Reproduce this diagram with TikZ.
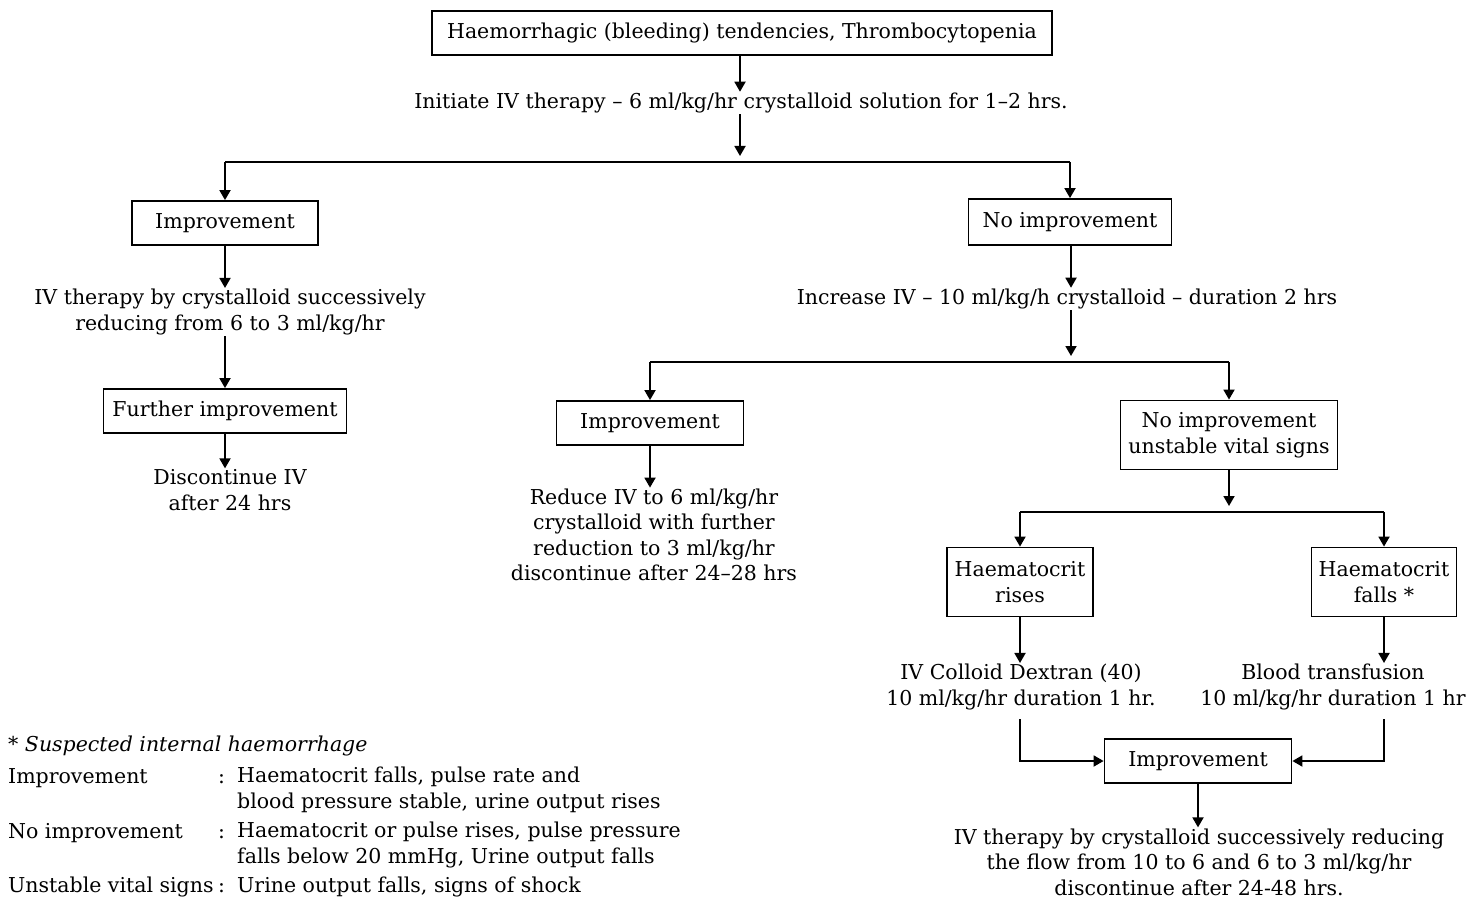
\documentclass[tikz,border=0pt]{standalone}
\usepackage{fontspec}
\setmainfont{DejaVu Serif}
\usetikzlibrary{arrows.meta}
\tikzset{
  stepbox/.style={draw,line width=1.8pt,inner sep=4pt,align=center},
  note/.style={align=center,inner sep=1pt},
  key/.style={anchor=base west,inner sep=0pt,align=left},
  arr/.style={line width=1.8pt,-{Triangle[length=10pt,width=11pt]}},
  link/.style={line width=1.8pt},
}
\begin{document}
\begin{tikzpicture}[x=1pt,y=-1pt,font=\fontsize{20.5}{25.5}\selectfont]
  \useasboundingbox (0,0) rectangle (1480,901);
  % top of the chart
  \node[stepbox,minimum width=620pt,minimum height=44pt] (cause) at (742,33) {Haemorrhagic (bleeding) tendencies, Thrombocytopenia};
  \node[note] (init) at (741,103) {Initiate IV therapy -- 6 ml/kg/hr crystalloid solution for 1--2 hrs.};
  \coordinate (bus1) at (740,162);
  % left branch
  \node[stepbox,minimum width=186pt,minimum height=44pt] (impA) at (225,223) {Improvement};
  \node[note] (reduceA) at (230,312) {IV therapy by crystalloid successively\\reducing from 6 to 3 ml/kg/hr};
  \node[stepbox,minimum width=243pt,minimum height=44pt] (further) at (225,411) {Further improvement};
  \node[note] (stopA) at (230,490) {Discontinue IV\\after 24 hrs};
  % right branch
  \node[stepbox,minimum width=203pt,minimum height=46pt] (noimpA) at (1070,222) {No improvement};
  \node[note] (increase) at (1067,299) {Increase IV -- 10 ml/kg/h crystalloid -- duration 2 hrs};
  \coordinate (bus2) at (1071,362);
  \node[stepbox,minimum width=187pt,minimum height=44pt] (impB) at (650,423) {Improvement};
  \node[note] (reduceB) at (654,535) {Reduce IV to 6 ml/kg/hr\\crystalloid with further\\reduction to 3 ml/kg/hr\\discontinue after 24--28 hrs};
  \node[stepbox,minimum width=217pt,minimum height=69pt] (unstable) at (1229,435) {No improvement\\unstable vital signs};
  \coordinate (bus3) at (1229,512);
  \node[stepbox,minimum width=146pt,minimum height=69pt] (rises) at (1020,582) {Haematocrit\\rises};
  \node[stepbox,minimum width=145pt,minimum height=69pt] (falls) at (1384,582) {Haematocrit\\falls *};
  \node[note] (dextran) at (1021,687) {IV Colloid Dextran (40)\\10 ml/kg/hr duration 1 hr.};
  \node[note] (blood) at (1333,687) {Blood transfusion\\10 ml/kg/hr duration 1 hr};
  \node[stepbox,minimum width=187pt,minimum height=44pt] (impC) at (1198,761) {Improvement};
  \node[note] (reduceC) at (1199,862) {IV therapy by crystalloid successively reducing\\the flow from 10 to 6 and 6 to 3 ml/kg/hr\\discontinue after 24-48 hrs.};

  % connectors
  \draw[arr] (cause.south -| bus1) -- (init.north -| bus1);
  \draw[arr,shorten >=6pt] (init.south -| bus1) -- (bus1);
  \draw[link] (impA |- bus1) -- (noimpA.north |- bus1);
  \draw[arr] (impA |- bus1) -- (impA.north);
  \draw[arr] (noimpA |- bus1) -- (noimpA.north);
  \draw[arr] (impA.south) -- (impA.south |- reduceA.north);
  \draw[arr] (further |- reduceA.south) -- (further.north);
  \draw[arr] (further.south) -- (further.south |- stopA.north);
  \draw[arr] (noimpA.south -| bus2) -- (increase.north -| bus2);
  \draw[arr,shorten >=6pt] (increase.south -| bus2) -- (bus2);
  \draw[link] (impB |- bus2) -- (unstable |- bus2);
  \draw[arr] (impB |- bus2) -- (impB.north);
  \draw[arr] (unstable |- bus2) -- (unstable.north);
  \draw[arr] (impB.south) -- (impB.south |- reduceB.north);
  \draw[arr,shorten >=6pt] (unstable.south -| bus3) -- (bus3);
  \draw[link] (rises |- bus3) -- (falls |- bus3);
  \draw[arr] (rises |- bus3) -- (rises.north);
  \draw[arr] (falls |- bus3) -- (falls.north);
  \draw[arr] (rises.south) -- (rises.south |- dextran.north);
  \draw[arr] (falls.south) -- (falls.south |- blood.north);
  \draw[arr] ([yshift=-8pt]rises |- dextran.south) |- (impC.west);
  \draw[arr] ([yshift=-8pt]falls |- blood.south) |- (impC.east);
  \draw[arr] (impC.south) -- (impC.south |- reduceC.north);

  % legend
  \node[key] (suspect) at (8,751) {* \textit{Suspected internal haemorrhage}};
  \node[key] (keyImp) at (8,783) {Improvement};
  \node[key] (colImp) at (218,783) {:};
  \node[key] (valImp) at (237,808) {Haematocrit falls, pulse rate and\\blood pressure stable, urine output rises};
  \node[key] (keyNo) at (8,838) {No improvement};
  \node[key] (colNo) at (218,838) {:};
  \node[key] (valNo) at (237,863) {Haematocrit or pulse rises, pulse pressure\\falls below 20 mmHg, Urine output falls};
  \node[key] (keyUns) at (8,892) {Unstable vital signs};
  \node[key] (colUns) at (218,892) {:};
  \node[key] (valUns) at (237,892) {Urine output falls, signs of shock};
\end{tikzpicture}
\end{document}
